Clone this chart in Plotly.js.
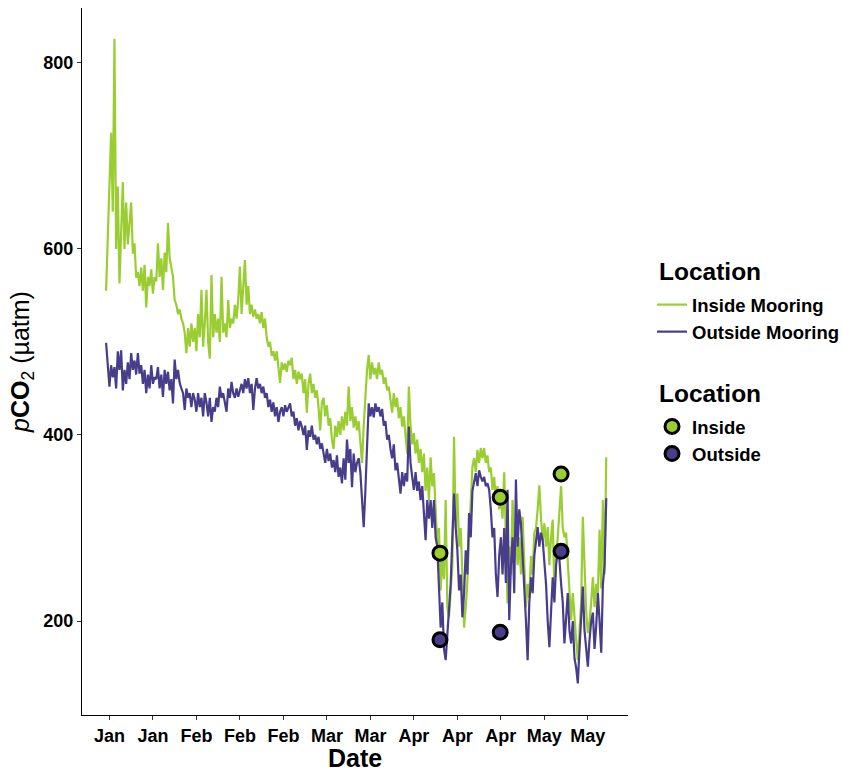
<!DOCTYPE html>
<html>
<head>
<meta charset="utf-8">
<script src="https://cdn.plot.ly/plotly-3.0.1.min.js"></script>
<style>html,body{margin:0;padding:0;background:#fff;}#chart{width:842px;height:769px;}</style>
</head>
<body>
<div id="chart"></div>
<script>
// Sampling: one reading every half day from the first mooring day
const startDay = 0;
const stepDay = 0.5;

const insideMooring = [
  555, 610, 653, 725, 640, 826, 600, 667, 563, 620,
  672, 600, 650, 605, 625, 650, 595, 606, 569, 575,
  560, 580, 555, 583, 537, 570, 560, 578, 552, 570,
  565, 606, 570, 590, 556, 596, 575, 628, 590, 581,
  570, 545, 540, 530, 535, 525, 520, 510, 488, 515,
  495, 520, 500, 515, 490, 530, 505, 556, 495, 520,
  556, 500, 482, 572, 505, 530, 510, 525, 500, 570,
  510, 520, 505, 545, 515, 525, 520, 540, 525, 545,
  581, 530, 555, 588, 540, 560, 530, 540, 527, 535,
  525, 530, 520, 532, 515, 525, 505, 495, 500, 485,
  490, 480, 490, 470, 456, 478, 470, 477, 468, 480,
  475, 483, 460, 470, 455, 468, 460, 466, 445, 460,
  424, 455, 466, 445, 455, 440, 448, 430, 405, 435,
  440, 420, 432, 410, 418, 395, 385, 410, 398, 415,
  400, 420, 405, 425, 410, 452, 415, 430, 408, 420,
  405, 415, 390, 370, 410, 440, 470, 486, 460, 478,
  465, 472, 460, 478, 465, 470, 455, 462, 448, 452,
  440, 424, 445, 430, 440, 418, 430, 409, 420, 395,
  380, 452, 410, 390, 402, 380, 395, 370, 385, 360,
  380, 340, 365, 330, 376, 345, 359, 320, 280, 300,
  233, 270, 245, 330, 215, 204, 230, 260, 398, 300,
  337, 280, 300, 240, 193, 215, 244, 290, 330, 366,
  375, 360, 384, 370, 386, 375, 386, 370, 378, 360,
  365, 341, 355, 330, 345, 320, 333, 310, 360, 300,
  219, 280, 250, 330, 270, 300, 260, 290, 250, 312,
  250, 215, 240, 225, 270, 250, 295, 300, 320, 346,
  310, 287, 305, 280, 301, 260, 290, 309, 230, 270,
  290, 320, 345, 300, 290, 295, 260, 240, 201, 230,
  200, 180, 158, 190, 220, 312, 250, 210, 187, 200,
  220, 247, 215, 240, 230, 298, 235, 330, 250, 376
];

const outsideMooring = [
  499, 470, 452, 475, 462, 473, 450, 490, 470, 491,
  448, 470, 455, 478, 460, 488, 470, 480, 465, 488,
  466, 475, 455, 470, 445, 465, 450, 475, 455, 462,
  460, 473, 450, 465, 441, 470, 455, 468, 448, 460,
  434, 481, 460, 470, 456, 450, 445, 427, 450, 440,
  445, 430, 445, 438, 425, 445, 430, 440, 420, 445,
  435, 420, 440, 414, 430, 425, 440, 430, 452, 440,
  445, 435, 425, 450, 440, 457, 445, 440, 450, 441,
  450, 455, 445, 460, 450, 461, 445, 455, 427, 450,
  461, 450, 455, 445, 452, 440, 445, 430, 438, 425,
  435, 420, 430, 414, 425, 430, 420, 432, 425, 430,
  434, 420, 425, 410, 418, 405, 415, 409, 400, 410,
  384, 405, 398, 410, 395, 400, 390, 398, 385, 391,
  382, 370, 385, 372, 380, 365, 373, 360, 378, 355,
  365, 348, 375, 352, 395, 370, 385, 344, 380, 360,
  370, 375, 360, 330, 301, 340, 400, 434, 420, 430,
  419, 434, 425, 430, 420, 428, 410, 415, 395, 400,
  385, 375, 390, 362, 370, 355, 337, 360, 345, 359,
  350, 409, 370, 355, 341, 360, 340, 350, 330, 345,
  320, 287, 330, 310, 330, 300, 330, 290, 280, 240,
  193, 220, 170, 158, 190, 209, 240, 290, 337, 300,
  276, 233, 250, 204, 230, 276, 250, 316, 290, 340,
  350, 359, 345, 362, 355, 350, 355, 345, 348, 341,
  320, 290, 300, 250, 226, 270, 290, 250, 300, 241,
  341, 201, 260, 290, 230, 352, 280, 320, 305, 270,
  250, 200, 158, 220, 247, 230, 270, 290, 301, 280,
  295, 287, 260, 240, 200, 172, 210, 247, 220, 260,
  275, 266, 240, 220, 176, 200, 230, 190, 176, 200,
  160, 150, 133, 170, 200, 237, 190, 165, 151, 180,
  200, 209, 170, 195, 230, 200, 166, 240, 260, 332
];

// Discrete bottle samples
const sampleDays = [99.8, 117.8, 136.0];
const sampleInside = [273, 333, 358];
const sampleOutside = [180, 188, 275];

// Axis ticks
const tickDays = [1, 14, 27, 40, 53, 66, 79, 92, 105, 118, 131, 144];
const tickLabels = ['Jan', 'Jan', 'Feb', 'Feb', 'Feb', 'Mar', 'Mar', 'Apr', 'Apr', 'Apr', 'May', 'May'];
const yTicks = [200, 400, 600, 800];

const days = insideMooring.map((_, i) => startDay + i * stepDay);

const GREEN = '#9ACD32';
const BLUE = '#483D8B';
const FONT = '"Liberation Sans", Arial, sans-serif';

const traces = [
  {x: days, y: insideMooring, type: 'scatter', mode: 'lines', name: 'Inside Mooring',
   line: {color: GREEN, width: 2.2}, legend: 'legend'},
  {x: days, y: outsideMooring, type: 'scatter', mode: 'lines', name: 'Outside Mooring',
   line: {color: BLUE, width: 2.2}, legend: 'legend'},
  {x: sampleDays, y: sampleInside, type: 'scatter', mode: 'markers', name: 'Inside',
   marker: {color: GREEN, size: 14, line: {color: '#000', width: 3}}, legend: 'legend2'},
  {x: sampleDays, y: sampleOutside, type: 'scatter', mode: 'markers', name: 'Outside',
   marker: {color: BLUE, size: 14, line: {color: '#000', width: 3}}, legend: 'legend2'}
];

const layout = {
  width: 842, height: 769,
  margin: {l: 82, r: 214, t: 8, b: 54, autoexpand: false},
  paper_bgcolor: '#fff', plot_bgcolor: '#fff',
  font: {family: FONT, color: '#000'},
  showlegend: true,
  xaxis: {
    range: [-7.2, 156], tickmode: 'array', tickvals: tickDays, ticktext: tickLabels,
    showgrid: false, zeroline: false, showline: true, linecolor: '#000', linewidth: 1.2,
    ticks: 'outside', ticklen: 4, tickcolor: '#333', tickwidth: 1,
    tickfont: {size: 18, weight: 'bold', color: '#000'}
  },
  yaxis: {
    range: [99, 859], tickmode: 'array', tickvals: yTicks,
    showgrid: false, zeroline: false, showline: true, linecolor: '#000', linewidth: 1.2,
    ticks: 'outside', ticklen: 4, tickcolor: '#333', tickwidth: 1,
    tickfont: {size: 18, weight: 'bold', color: '#000'},
    title: {text: '<i>p</i><b>CO</b><sub>2</sub> (µatm)', font: {size: 25}, standoff: 6}
  },
  annotations: [
    {text: 'Date', xref: 'paper', yref: 'paper', x: 0.5, y: 0, yshift: -43,
     xanchor: 'center', yanchor: 'middle', showarrow: false, borderpad: 0,
     font: {size: 25, weight: 'bold', color: '#000'}},
    {text: 'Location', xref: 'paper', yref: 'paper', x: 1.053, y: 0.628,
     xanchor: 'left', yanchor: 'middle', showarrow: false,
     font: {size: 24.5, weight: 'bold', color: '#000'}},
    {text: 'Location', xref: 'paper', yref: 'paper', x: 1.053, y: 0.4554,
     xanchor: 'left', yanchor: 'middle', showarrow: false,
     font: {size: 24.5, weight: 'bold', color: '#000'}}
  ],
  legend: {
    x: 1.044, xanchor: 'left', y: 0.6067, yanchor: 'top',
    font: {size: 18.5, weight: 'bold'}, bgcolor: 'rgba(0,0,0,0)', tracegroupgap: 0
  },
  legend2: {
    x: 1.044, xanchor: 'left', y: 0.4343, yanchor: 'top',
    font: {size: 18.5, weight: 'bold'}, bgcolor: 'rgba(0,0,0,0)', tracegroupgap: 0
  }
};

Plotly.newPlot('chart', traces, layout, {displayModeBar: false, staticPlot: true});
</script>
</body>
</html>
